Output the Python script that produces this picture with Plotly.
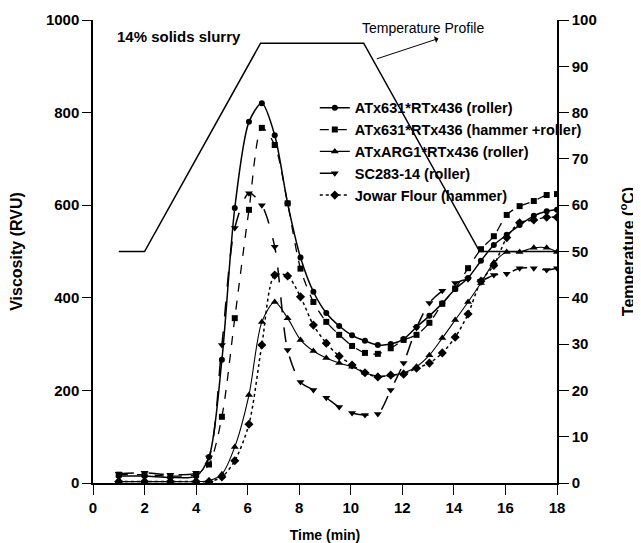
import plotly.graph_objects as go

time_min = [1, 2, 3, 4, 4.5, 5.0, 5.5, 6.05, 6.55, 7.05, 7.55, 8.05, 8.55, 9.05, 9.55,
            10.05, 10.55, 11.05, 11.55, 12.05, 12.55, 13.05, 13.55, 14.05, 14.55,
            15.05, 15.55, 16.05, 16.55, 17.1, 17.6, 18.0]

atx631_roller = [15, 15, 12, 15, 56, 266, 594, 780, 820, 751, 604, 487, 413, 367, 339,
                 319, 307, 298, 300, 311, 337, 361, 388, 419, 443,
                 480, 514, 536, 557, 577, 587, 590]
atx631_hammer_roller = [18, 18, 15, 18, 40, 143, 356, 590, 767, 730, 604, 463, 391, 348, 320,
                        296, 281, 279, 291, 309, 320, 346, 387, 420, 464,
                        505, 533, 579, 598, 609, 622, 624]
atxarg1_roller = [3, 3, 3, 3, 5, 19, 78, 190, 348, 391, 356, 309, 285, 270, 259,
                  251, 238, 231, 233, 238, 251, 276, 313, 352, 391,
                  432, 476, 499, 499, 508, 508, 499]
sc283_roller = [20, 22, 18, 22, 55, 298, 551, 626, 600, 510, 287, 218, 201, 184, 164,
                151, 147, 149, 201, 259, 335, 389, 415, 432, 440,
                437, 449, 452, 464, 464, 460, 464]
jowar_hammer = [3, 3, 3, 3, 3, 13, 48, 127, 298, 449, 447, 402, 341, 302, 274,
                255, 238, 229, 233, 235, 248, 259, 281, 315, 365,
                436, 470, 530, 562, 568, 574, 574]

temp_time = [1, 2, 6.5, 10.5, 15, 18]
temp_values = [50, 50, 95, 95, 50, 50]

series_names = ["ATx631*RTx436 (roller)", "ATx631*RTx436 (hammer +roller)",
                "ATxARG1*RTx436 (roller)", "SC283-14 (roller)", "Jowar Flour (hammer)"]
series_values = [atx631_roller, atx631_hammer_roller, atxarg1_roller, sc283_roller, jowar_hammer]
symbols = ["circle", "square", "triangle-up", "triangle-down", "diamond"]
dashes = ["solid", "dash", "solid", "longdash", "dot"]
widths = [1.5, 1.3, 1.1, 1.5, 1.5]
msizes = [6, 6, 7, 7, 7]

FONT = "Arial, Liberation Sans, sans-serif"

fig = go.Figure()
for name, vals, sym, dash, w, ms in zip(series_names, series_values, symbols, dashes, widths, msizes):
    fig.add_trace(go.Scatter(
        x=time_min, y=vals, name=name, mode="lines+markers",
        line=dict(color="black", width=w, dash=dash, shape="spline", smoothing=0.8),
        marker=dict(symbol=sym, size=ms, color="black"),
    ))

fig.add_trace(go.Scatter(
    x=temp_time, y=temp_values, yaxis="y2", mode="lines", showlegend=False,
    line=dict(color="black", width=1.5), name="Temperature Profile",
))

# page body has an 8px default margin, so the figure is shrunk by 8px
fig.update_layout(
    width=633, height=535,
    margin=dict(l=85, r=84, t=12, b=60, autoexpand=False),
    paper_bgcolor="white", plot_bgcolor="white",
    font=dict(family=FONT, color="black", size=13),
    xaxis=dict(range=[0, 18], dtick=2, tick0=0, showline=True, linecolor="black", linewidth=1.5,
               ticks="outside", ticklen=10, tickcolor="black", showgrid=False, zeroline=False,
               tickfont=dict(size=15, family=FONT, weight="bold"),
               title=dict(text="<b>Time (min)</b>", font=dict(size=14), standoff=16)),
    yaxis=dict(range=[0, 1000], dtick=200, showline=True, linecolor="black", linewidth=1.5,
               ticks="outside", ticklen=9, tickcolor="black", showgrid=False, zeroline=False,
               tickfont=dict(size=15, family=FONT, weight="bold"),
               title=dict(text="<b>Viscosity (RVU)</b>", font=dict(size=16), standoff=19)),
    yaxis2=dict(range=[0, 100], dtick=10, overlaying="y", side="right", showline=True,
                linecolor="black", linewidth=1.5, ticks="outside", ticklen=10, tickcolor="black",
                showgrid=False, zeroline=False,
                tickfont=dict(size=15, family=FONT, weight="bold"),
                title=dict(text="<b>Temperature (<sup>o</sup>C)</b>", font=dict(size=16), standoff=27)),
    legend=dict(x=0.478, y=0.845, xanchor="left", yanchor="top", bgcolor="rgba(0,0,0,0)",
                font=dict(size=14.5, family=FONT, weight="bold"), tracegroupgap=0,
                itemwidth=30),
    showlegend=True,
)

fig.add_annotation(x=0.85, y=965, xref="x", yref="y", text="<b>14% solids slurry</b>",
                   showarrow=False, xanchor="left", yanchor="middle",
                   font=dict(size=15, family=FONT))
fig.add_annotation(x=12.8, y=98.2, xref="x", yref="y2", text="Temperature Profile",
                   showarrow=False, xanchor="center", yanchor="middle",
                   font=dict(size=14, family=FONT))
fig.add_annotation(x=13.4, y=96.0, xref="x", yref="y2", ax=10.95, ay=91.5,
                   axref="x", ayref="y2", text="", showarrow=True,
                   arrowhead=1, arrowsize=1.2, arrowwidth=1, arrowcolor="black")

fig.write_html("out.html")
